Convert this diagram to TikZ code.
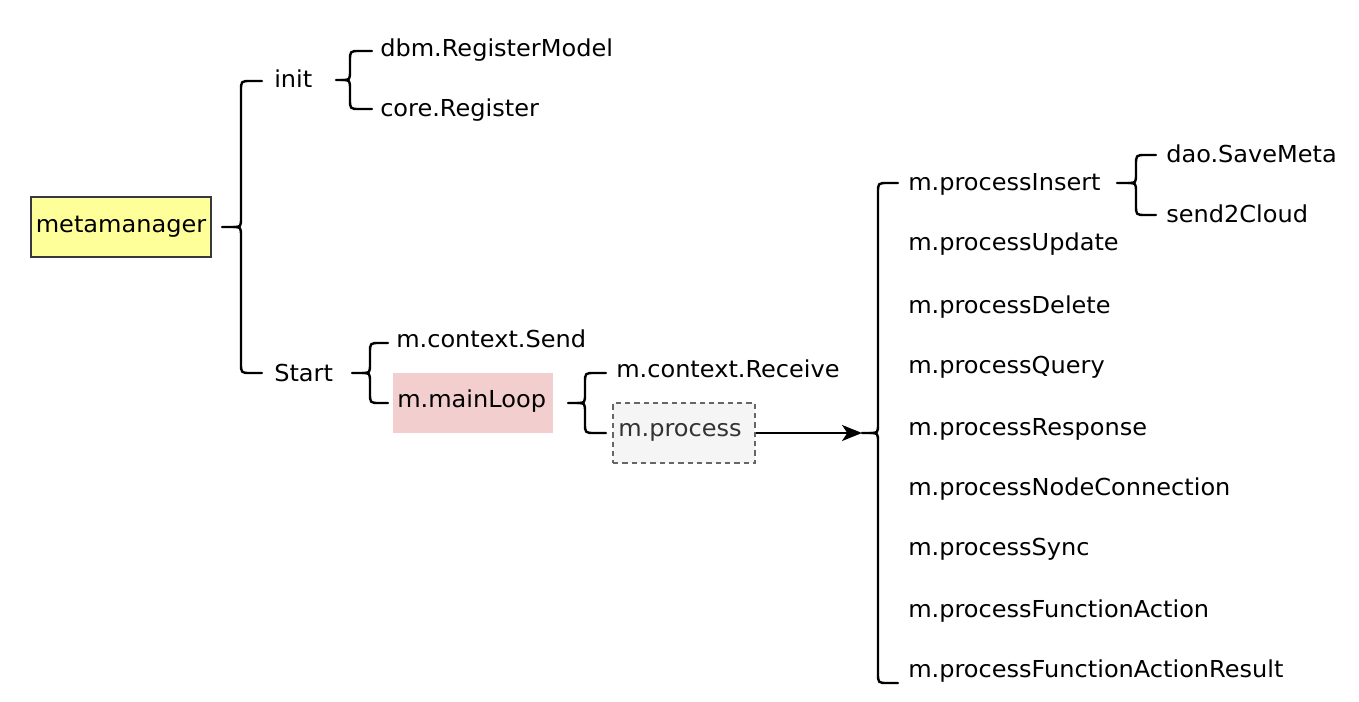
\documentclass[tikz,border=0pt]{standalone}
\usepackage{fontspec}
\setmainfont{DejaVu Sans}[FakeStretch=1.03]
\usetikzlibrary{arrows.meta}
\definecolor{mmfill}{HTML}{FFFF99}
\definecolor{mmdraw}{HTML}{36393D}
\definecolor{loopfill}{HTML}{F2CFCE}
\definecolor{procfill}{HTML}{F5F5F5}
\definecolor{procdraw}{HTML}{666666}
\definecolor{proctext}{HTML}{333333}
\newcommand\mybrace[6]{% tip x, vertical x, end x, mid y, top y, bottom y
  \draw[bracestyle] (#1,#4) -- ({#2-8},#4) .. controls (#2,#4) .. (#2,{#4-10})
    -- (#2,{#5+10}) .. controls (#2,#5) .. ({#2+10},#5) -- (#3,#5);
  \draw[bracestyle] ({#2-8},#4) .. controls (#2,#4) .. (#2,{#4+10})
    -- (#2,{#6-10}) .. controls (#2,#6) .. ({#2+10},#6) -- (#3,#6);
}
\begin{document}
\begin{tikzpicture}[x=0.75pt,y=-0.75pt,
  every node/.style={font=\fontsize{17.5}{21}\selectfont},
  lbl/.style={anchor=base west,inner sep=0pt},
  bracestyle/.style={draw=black,line width=1.8pt,line cap=round,line join=round},
  boxlbl/.style={anchor=west,inner sep=0pt}]
\useasboundingbox[fill=white] (0,0) rectangle (1359,702);
% root
\node[draw=mmdraw,fill=mmfill,line width=1.3pt,minimum width=135pt,minimum height=45pt,inner sep=0pt] (mm) at (121,227) {metamanager};
% level 1
\node[lbl] (init) at (274,88) {init};
\node[lbl] (start) at (274,381) {Start};
% init children
\node[lbl] (dbm) at (380,57) {dbm.RegisterModel};
\node[lbl] (core) at (380,117) {core.Register};
% start children
\node[lbl] (send) at (396,347) {m.context.Send};
\node[fill=loopfill,minimum width=120pt,minimum height=45pt,inner sep=0pt] (loop) at (473,403) {};
\node[boxlbl] (looptxt) at (397,401) {m.mainLoop};
% mainLoop children
\node[lbl] (recv) at (616,377) {m.context.Receive};
\node[fill=procfill,draw=procdraw,dash pattern=on 4pt off 3pt,line width=1pt,minimum width=106.5pt,minimum height=45pt,inner sep=0pt] (proc) at (684,433) {};
\node[boxlbl,text=proctext] (proctxt) at (618,432) {m.process};
% process children
\node[lbl] (p1) at (908,191) {m.processInsert};
\node[lbl] (p2) at (908,251) {m.processUpdate};
\node[lbl] (p3) at (908,313) {m.processDelete};
\node[lbl] (p4) at (908,373) {m.processQuery};
\node[lbl] (p5) at (908,435) {m.processResponse};
\node[lbl] (p6) at (908,495) {m.processNodeConnection};
\node[lbl] (p7) at (908,555) {m.processSync};
\node[lbl] (p8) at (908,617) {m.processFunctionAction};
\node[lbl] (p9) at (908,677) {m.processFunctionActionResult};
% insert children
\node[lbl] (dao) at (1166,163) {dao.SaveMeta};
\node[lbl] (cloud) at (1166,223) {send2Cloud};
% braces
\mybrace{222}{241}{262}{227}{81}{373}
\mybrace{336}{350}{372}{80}{51}{109}
\mybrace{352}{370}{388}{373}{343}{403}
\mybrace{568}{585}{606}{403}{373}{433}
\mybrace{862}{878}{898}{433}{183}{683}
\mybrace{1117}{1136}{1156}{183}{155}{215}
% arrow
\coordinate (b5tip) at (862,433);
\draw[line width=1.7pt,-{Stealth[length=15pt,width=12pt,inset=4pt]}] (proc.east) -- (b5tip);
\end{tikzpicture}
\end{document}
